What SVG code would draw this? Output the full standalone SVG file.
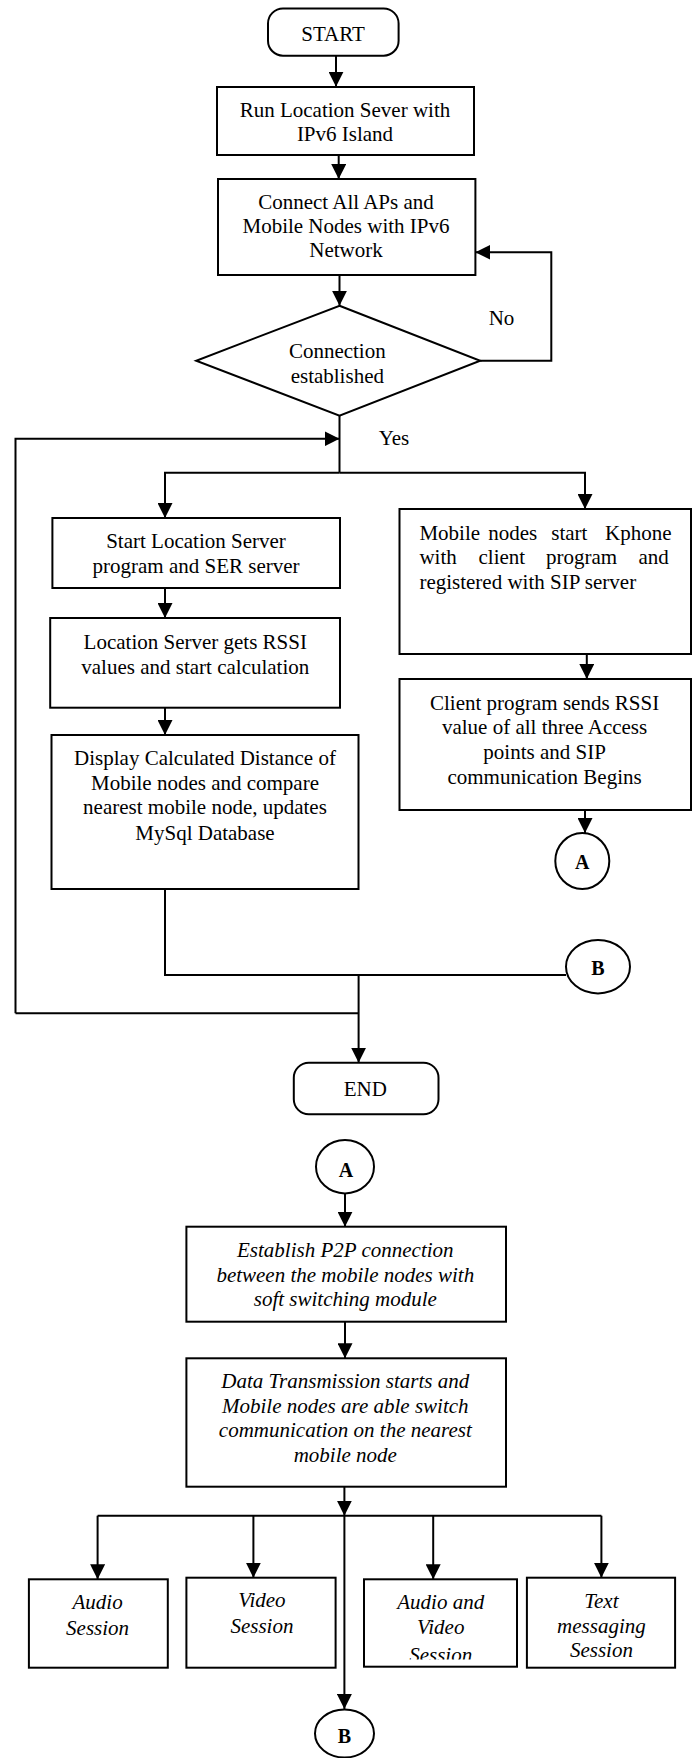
<svg xmlns="http://www.w3.org/2000/svg" width="696" height="1758" viewBox="0 0 696 1758">
<style>
.b{fill:#fff;stroke:#000;stroke-width:2}
.c{fill:none;stroke:#000;stroke-width:2}
.t{font-family:"Liberation Serif","Times New Roman",serif;font-size:21px;fill:#000;text-anchor:middle}
.l{text-anchor:start}
.i{font-style:italic}
.k{font-weight:bold;font-size:20px}
</style>
<defs>
<marker id="ah" markerUnits="userSpaceOnUse" markerWidth="15" markerHeight="15" refX="15" refY="7.5" orient="auto" viewBox="0 0 15 15">
<path d="M0,0 L15,7.5 L0,15 z" fill="#000"/>
</marker>
<clipPath id="avclip"><rect x="364" y="1579" width="153" height="80.5"/></clipPath>
</defs>
<rect width="696" height="1758" fill="#fff"/>

<g id="connectors">
<path class="c" d="M336,55.7 V86.7" marker-end="url(#ah)"/>
<path class="c" d="M338.7,155 V179" marker-end="url(#ah)"/>
<path class="c" d="M339.5,275 V305.7" marker-end="url(#ah)"/>
<path class="c" d="M480.2,360.7 H551.3 V252.3 H475.4" marker-end="url(#ah)"/>
<path class="c" d="M339.5,415.7 V472.7"/>
<path class="c" d="M339.5,472.7 H165 V518" marker-end="url(#ah)"/>
<path class="c" d="M339.5,472.7 H585 V509" marker-end="url(#ah)"/>
<path class="c" d="M15.5,1013.3 V438.8 H339.5" marker-end="url(#ah)"/>
<path class="c" d="M165,588 V618" marker-end="url(#ah)"/>
<path class="c" d="M165,707.7 V735" marker-end="url(#ah)"/>
<path class="c" d="M586.8,654 V679" marker-end="url(#ah)"/>
<path class="c" d="M585,810 V833" marker-end="url(#ah)"/>
<path class="c" d="M165,889 V975 H566"/>
<path class="c" d="M15.5,1013.3 H358.6"/>
<path class="c" d="M358.6,975 V1062.7" marker-end="url(#ah)"/>
<path class="c" d="M345,1193.3 V1226.7" marker-end="url(#ah)"/>
<path class="c" d="M345,1321.7 V1358.3" marker-end="url(#ah)"/>
<path class="c" d="M344.4,1486.7 V1515.7" marker-end="url(#ah)"/>
<path class="c" d="M97.6,1515.7 H601.4"/>
<path class="c" d="M344.4,1515.7 V1709" marker-end="url(#ah)"/>
<path class="c" d="M97.6,1515.7 V1579.3" marker-end="url(#ah)"/>
<path class="c" d="M253.4,1515.7 V1577.7" marker-end="url(#ah)"/>
<path class="c" d="M433.2,1515.7 V1579.3" marker-end="url(#ah)"/>
<path class="c" d="M601.4,1515.7 V1577.7" marker-end="url(#ah)"/>
<text class="t" x="501.5" y="325">No</text>
<text class="t" x="394" y="445">Yes</text>
</g>

<g id="start">
<rect class="b" x="268" y="8.5" width="130.6" height="47.2" rx="15"/>
<text class="t" x="333" y="40.5">START</text>
</g>

<g id="run">
<rect class="b" x="217" y="87" width="257" height="68"/>
<text class="t" x="345" y="117.3">Run Location Sever with</text>
<text class="t" x="345" y="141">IPv6 Island</text>
</g>

<g id="connect">
<rect class="b" x="218" y="179" width="257.4" height="96"/>
<text class="t" x="346" y="208.6">Connect All APs and</text>
<text class="t" x="346" y="232.6">Mobile Nodes with IPv6</text>
<text class="t" x="346" y="256.9">Network</text>
</g>

<g id="decision">
<polygon class="b" points="339.5,305.7 480.2,360.7 339.5,415.7 196.2,360.7"/>
<text class="t" x="337.3" y="358.3">Connection</text>
<text class="t" x="337.3" y="382.6">established</text>
</g>

<g id="startls">
<rect class="b" x="52.4" y="518" width="287.6" height="70"/>
<text class="t" x="196" y="548.3">Start Location Server</text>
<text class="t" x="196" y="572.6">program and SER server</text>
</g>

<g id="lsgets">
<rect class="b" x="50.2" y="618" width="289.8" height="89.7"/>
<text class="t" x="195.3" y="649.3">Location Server gets RSSI</text>
<text class="t" x="195.3" y="673.6">values and start calculation</text>
</g>

<g id="display">
<rect class="b" x="51.5" y="735" width="307" height="154"/>
<text class="t" x="205" y="764.9">Display Calculated Distance of</text>
<text class="t" x="205" y="789.9">Mobile nodes and compare</text>
<text class="t" x="205" y="814.3">nearest mobile node, updates</text>
<text class="t" x="205" y="839.9">MySql Database</text>
</g>

<g id="kphone">
<rect class="b" x="399.5" y="509" width="291.5" height="145"/>
<text class="t l" y="539.6"><tspan x="419.4">Mobile</tspan><tspan x="488.2">nodes</tspan><tspan x="551.3">start</tspan><tspan x="605">Kphone</tspan></text>
<text class="t l" y="564.3"><tspan x="419.4">with</tspan><tspan x="478.5">client</tspan><tspan x="546">program</tspan><tspan x="638.5">and</tspan></text>
<text class="t l" x="419.4" y="588.6">registered with SIP server</text>
</g>

<g id="client">
<rect class="b" x="399.5" y="679" width="291.5" height="131"/>
<text class="t" x="544.6" y="710">Client program sends RSSI</text>
<text class="t" x="544.6" y="734.3">value of all three Access</text>
<text class="t" x="544.6" y="759">points and SIP</text>
<text class="t" x="544.6" y="784">communication Begins</text>
</g>

<g id="connA1">
<ellipse class="b" cx="582.3" cy="861" rx="27" ry="28"/>
<text class="t k" x="582.3" y="868.5">A</text>
</g>

<g id="connB1">
<ellipse class="b" cx="598" cy="966.7" rx="32" ry="26.7"/>
<text class="t k" x="598" y="975">B</text>
</g>

<g id="end">
<rect class="b" x="293.8" y="1062.7" width="144.7" height="51.6" rx="15"/>
<text class="t" x="365.3" y="1095.6">END</text>
</g>

<g id="connA2">
<ellipse class="b" cx="345" cy="1166.7" rx="29" ry="26.7"/>
<text class="t k" x="346" y="1177">A</text>
</g>

<g id="p2p">
<rect class="b" x="186.4" y="1226.7" width="319.6" height="95"/>
<text class="t i" x="345.3" y="1257.3">Establish P2P connection</text>
<text class="t i" x="345.3" y="1281.6">between the mobile nodes with</text>
<text class="t i" x="345.3" y="1305.9">soft switching module</text>
</g>

<g id="data">
<rect class="b" x="186.4" y="1358.3" width="319.6" height="128.4"/>
<text class="t i" x="345.3" y="1388.3">Data Transmission starts and</text>
<text class="t i" x="345.3" y="1413.3">Mobile nodes are able switch</text>
<text class="t i" x="345.3" y="1437.3">communication on the nearest</text>
<text class="t i" x="345.3" y="1462">mobile node</text>
</g>

<g id="audio">
<rect class="b" x="28.9" y="1579.3" width="138.9" height="88.4"/>
<text class="t i" x="97.6" y="1609">Audio</text>
<text class="t i" x="97.6" y="1635">Session</text>
</g>

<g id="video">
<rect class="b" x="186.4" y="1577.7" width="149.2" height="90"/>
<text class="t i" x="261.9" y="1607.3">Video</text>
<text class="t i" x="261.9" y="1632.6">Session</text>
</g>

<g id="audiovideo">
<rect class="b" x="364" y="1579.3" width="153" height="87.4"/>
<g clip-path="url(#avclip)">
<text class="t i" x="440.7" y="1609">Audio and</text>
<text class="t i" x="440.7" y="1634">Video</text>
<text class="t i" x="440.7" y="1662">Session</text>
</g>
</g>

<g id="textmsg">
<rect class="b" x="526.9" y="1577.7" width="148.2" height="90"/>
<text class="t i" x="601.4" y="1608.3">Text</text>
<text class="t i" x="601.4" y="1633.3">messaging</text>
<text class="t i" x="601.4" y="1656.6">Session</text>
</g>

<g id="connB2">
<ellipse class="b" cx="344.5" cy="1733.5" rx="29.5" ry="24"/>
<text class="t k" x="344.5" y="1743">B</text>
</g>
</svg>
